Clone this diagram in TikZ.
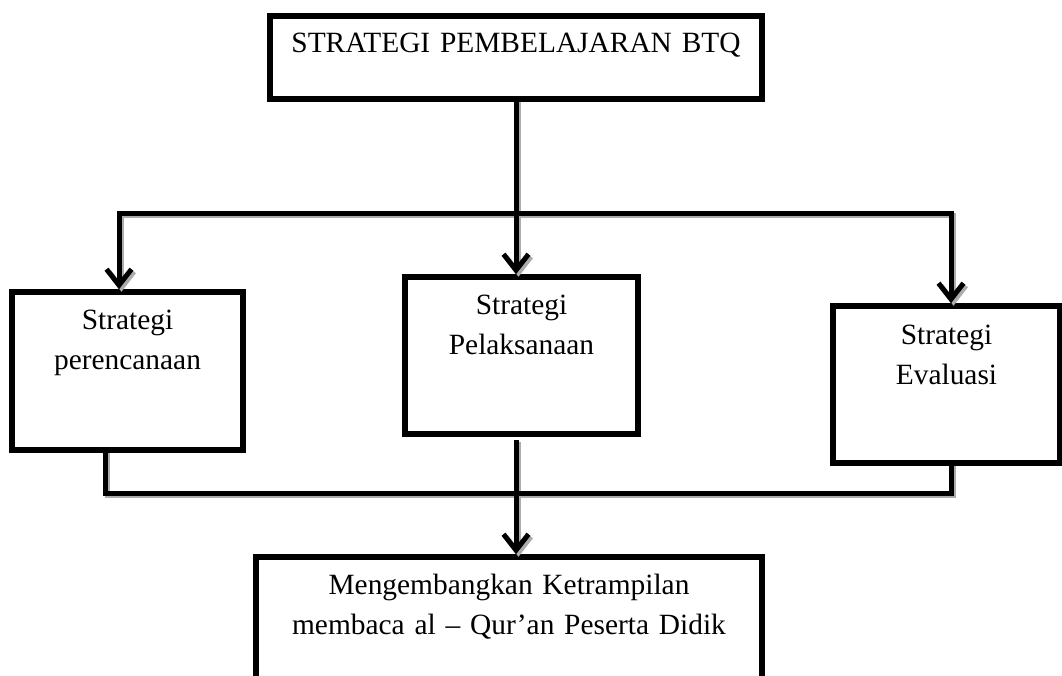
\documentclass[tikz,border=0pt]{standalone}
\usepackage{fontspec}
\setmainfont{Liberation Serif}
\usetikzlibrary{arrows.meta,calc}
\begin{document}
\begin{tikzpicture}[x=1pt,y=-1pt,
  box/.style={draw=black, line width=5.5pt, fill=white, inner sep=0pt},
  lbl/.style={anchor=base, align=center, inner sep=0pt, text width=220pt,
    font=\fontsize{29.4}{40}\selectfont},
  conn/.style={draw=black, line width=5pt, line cap=rect},
  shadowc/.style={draw=gray!65, line width=5pt, line cap=rect},
  arr/.style={-{Straight Barb[length=16pt,width=25pt]}}]
\useasboundingbox (0,0) rectangle (1062,675);
\clip (0,0) rectangle (1062,675);

% boxes
\node[box, minimum width=492pt, minimum height=83pt] (T) at (516,57.5) {};
\node[box, minimum width=231pt, minimum height=158pt] (L) at (127.5,371) {};
\node[box, minimum width=233pt, minimum height=157pt] (M) at (521.5,355.5) {};
\node[box, minimum width=227pt, minimum height=157pt] (R) at (946.5,384.5) {};
\node[box, minimum width=506pt, minimum height=160pt] (B) at (509,637) {};

% labels
\node[lbl, text width=480pt] (Tt) at ($(T.north)+(0,39)$) {STRATEGI PEMBELAJARAN BTQ};
\node[lbl] (Lt) at ($(L.north)+(0,40)$) {Strategi\\perencanaan};
\node[lbl] (Mt) at ($(M.north)+(0,40)$) {Strategi\\Pelaksanaan};
\node[lbl] (Rt) at ($(R.north)+(0,41)$) {Strategi\\Evaluasi};
\node[lbl, text width=480pt] (Bt) at ($(B.north)+(0,40)$) {Mengembangkan Ketrampilan\\membaca al – Qur’an Peserta Didik};

% connector junctions
\coordinate (hl) at (119,213);
\coordinate (hr) at (951,213);
\coordinate (bl) at (105,493);
\coordinate (br) at (951,493);
\coordinate (mt) at (516,442);

\newcommand\myconns[1]{%
  \draw[#1] (hl) -- (hr);
  \draw[#1] (bl |- L.south) -- (bl) -- (br) -- (br |- R.south);
  \draw[#1,arr] (T.south) -- (T.south |- M.north);
  \draw[#1,arr] (hl) -- (hl |- L.north);
  \draw[#1,arr] (hr) -- (hr |- R.north);
  \draw[#1,arr] (mt) -- (mt |- B.north);
}
\begin{scope}[transform canvas={shift={(2.5pt,-2.5pt)}}]
  \myconns{shadowc}
\end{scope}
\myconns{conn}
\end{tikzpicture}
\end{document}
